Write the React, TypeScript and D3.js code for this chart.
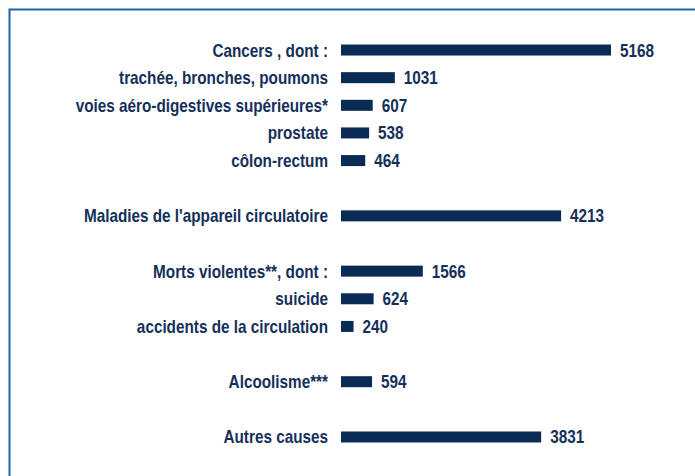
import React, { useEffect, useRef } from "react";
import * as d3 from "d3";

// rows in display order, "" marks an empty spacer row
const categories = [
  "Cancers , dont :",
  "trachée, bronches, poumons",
  "voies aéro-digestives supérieures*",
  "prostate",
  "côlon-rectum",
  "",
  "Maladies de l'appareil circulatoire",
  "",
  "Morts violentes**, dont :",
  "suicide",
  "accidents de la circulation",
  "",
  "Alcoolisme***",
  "",
  "Autres causes",
];
const values = [5168, 1031, 607, 538, 464, null, 4213, null, 1566, 624, 240, null, 594, null, 3831];

const W = 695;
const H = 476;

const App = () => {
  const svgRef = useRef<SVGSVGElement | null>(null);

  useEffect(() => {
    const svg = d3.select(svgRef.current);
    svg.selectAll("*").remove();

    // no narrow font installed, so squeeze Liberation Sans horizontally
    const font = "'Liberation Sans', Arial, sans-serif";
    const squeeze = 0.85;
    const textColor = "#15305a";
    const barColor = "#0a2b55";

    // frame around the chart (runs off the right/bottom edge)
    svg
      .append("rect")
      .attr("x", 9.5)
      .attr("y", 9.5)
      .attr("width", W)
      .attr("height", H)
      .attr("fill", "none")
      .attr("stroke", "#1f63a6")
      .attr("stroke-width", 2);

    const x = d3.scaleLinear().domain([0, 5168]).range([341, 611]);
    const y = d3
      .scaleBand<number>()
      .domain(d3.range(categories.length))
      .range([36.2, 450.8])
      .paddingInner(0.6)
      .paddingOuter(0.3);

    const rows = categories.map((c, i) => ({ c, v: values[i], i })).filter((d) => d.v !== null);
    const cy = (d) => y(d.i)! + y.bandwidth() / 2;

    const g = svg.append("g");

    g.selectAll("rect.bar")
      .data(rows)
      .join("rect")
      .attr("class", "bar")
      .attr("x", x(0))
      .attr("y", (d) => cy(d) - 5.5)
      .attr("width", (d) => x(d.v as number) - x(0))
      .attr("height", 11)
      .attr("fill", barColor);

    g.selectAll("text.cat")
      .data(rows)
      .join("text")
      .attr("class", "cat")
      .attr("transform", (d) => `translate(328,${cy(d)}) scale(${squeeze},1)`)
      .attr("dy", "0.36em")
      .attr("text-anchor", "end")
      .attr("font-family", font)
      .attr("font-weight", "bold")
      .attr("font-size", 18)
      .attr("fill", textColor)
      .text((d) => d.c);

    g.selectAll("text.val")
      .data(rows)
      .join("text")
      .attr("class", "val")
      .attr("transform", (d) => `translate(${x(d.v as number) + 9},${cy(d)}) scale(${squeeze},1)`)
      .attr("dy", "0.36em")
      .attr("font-family", font)
      .attr("font-weight", "bold")
      .attr("font-size", 18)
      .attr("fill", textColor)
      .text((d) => String(d.v));
  }, []);

  return (
    <div style={{ position: "absolute", left: 0, top: 0, width: W, height: H, background: "#fff" }}>
      <svg ref={svgRef} width={W} height={H} style={{ display: "block" }} />
    </div>
  );
};

export default App;
